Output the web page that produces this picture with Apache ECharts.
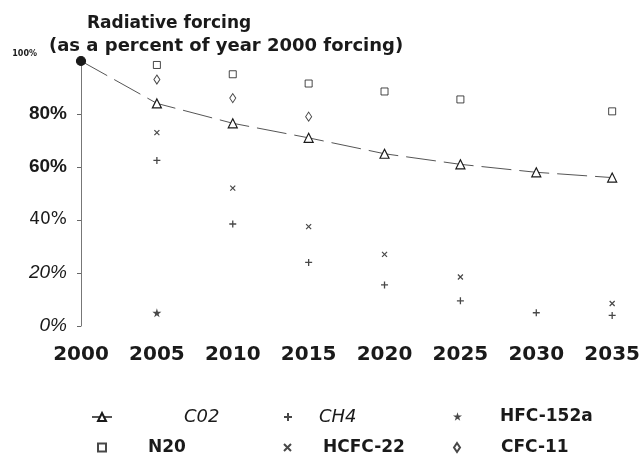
<!DOCTYPE html>
<html>
<head>
<meta charset="utf-8">
<script src="https://cdn.jsdelivr.net/npm/echarts@6/dist/echarts.min.js"></script>
<style>
  html, body { margin: 0; padding: 0; background: #fff; }
</style>
</head>
<body>
<div id="main" style="width: 643px; height: 460px"></div>
<script>
// years on the x axis
let years = [2000, 2005, 2010, 2015, 2020, 2025, 2030, 2035];
// percent of year 2000 forcing, null where no mark is shown
let co2 = [100, 84, 76.5, 71, 65, 61, 58, 56];
let ch4 = [null, 62.5, 38.5, 24, 15.5, 9.5, 5, 4];
let hfc152a = [null, 5, null, null, null, null, null, null];
let n2o = [null, 98.5, 95, 91.5, 88.5, 85.5, null, 81];
let hcfc22 = [null, 73, 52, 37.5, 27, 18.5, null, 8.5];
let cfc11 = [null, 93, 86, 79, null, null, null, null];

let ink = '#1a1a1a';
let plusPath = 'path://M5,0L5,10M0,5L10,5';
let crossPath = 'path://M0,0L10,10M10,0L0,10';
let starPath = 'path://M50,0L61,35L98,35L68,57L79,91L50,70L21,91L32,57L2,35L39,35Z';

function pairs(vals) {
    let out = [];
    for (let i = 0; i < years.length; i++) {
        if (vals[i] !== null) out.push([years[i], vals[i]]);
    }
    return out;
}

// one legend per entry so each sits where the reference has it
function legendItem(name, left, top, w, h, pad, italic) {
    return {
        left: left, top: top,
        itemWidth: w, itemHeight: h,
        data: [{
            name: name,
            textStyle: {
                fontFamily: 'DejaVu Sans',
                fontStyle: italic ? 'italic' : 'normal',
                fontWeight: italic ? 'normal' : 'bold',
                fontSize: italic ? 18 : 17,
                color: ink,
                padding: [0, 0, 0, pad]
            }
        }]
    };
}

let chart = echarts.init(document.getElementById('main'));

let co2Data = pairs(co2);
// the year-2000 starting point is drawn as a solid dot
co2Data[0] = { value: co2Data[0], symbol: 'circle', symbolSize: 9, itemStyle: { color: ink } };

let option = {
    backgroundColor: '#fff',
    animation: false,
    title: [
        {
            text: 'Radiative forcing',
            left: 82, top: 10,
            textStyle: { fontFamily: 'DejaVu Sans', fontWeight: 'bold', fontSize: 17, color: ink }
        },
        {
            text: '(as a percent of year 2000 forcing)',
            left: 44, top: 32,
            textStyle: { fontFamily: 'DejaVu Sans', fontWeight: 'bold', fontSize: 18, color: ink }
        }
    ],
    grid: { left: 81, right: 30, top: 61, bottom: 134 },
    xAxis: {
        type: 'value',
        min: 2000, max: 2035, interval: 5,
        axisLine: { show: false },
        axisTick: { show: false },
        splitLine: { show: false },
        axisLabel: {
            margin: 19,
            color: ink,
            fontFamily: 'DejaVu Sans',
            fontWeight: 'bold',
            fontSize: 20,
            formatter: function (v) { return String(v); }
        }
    },
    yAxis: {
        type: 'value',
        min: 0, max: 100, interval: 20,
        axisLine: { show: true, lineStyle: { color: '#777', width: 1 } },
        axisTick: { show: true, length: 4, lineStyle: { color: '#666' } },
        splitLine: { show: false },
        axisLabel: {
            margin: 14,
            color: ink,
            formatter: function (v) {
                if (v === 100) return '{t|100%}';
                if (v === 80 || v === 60) return '{b|' + v + '%}';
                if (v === 40) return '{r|' + v + '%}';
                return '{i|' + v + '%}';
            },
            rich: {
                t: { fontFamily: 'DejaVu Sans', fontWeight: 'bold', fontSize: 8, color: ink, padding: [0, 30, 14, 0] },
                b: { fontFamily: 'Liberation Sans', fontWeight: 'bold', fontSize: 19, color: ink },
                r: { fontFamily: 'DejaVu Sans', fontSize: 17, color: ink },
                i: { fontFamily: 'Liberation Sans', fontStyle: 'italic', fontSize: 19, color: ink }
            }
        }
    },
    legend: [
        legendItem('C02', 86, 403, 20, 10, 67, true),
        legendItem('CH4', 278, 403, 8, 8, 22, true),
        legendItem('HFC-152a', 448, 403, 9, 9, 33, false),
        legendItem('N20', 92, 434, 8, 8, 37, false),
        legendItem('HCFC-22', 278, 434, 7, 7, 27, false),
        legendItem('CFC-11', 448, 434, 6, 9, 36, false)
    ],
    series: [
        {
            name: 'C02',
            type: 'line',
            data: co2Data,
            symbol: 'triangle',
            symbolSize: 9,
            itemStyle: { color: '#fff', borderColor: ink, borderWidth: 1.2 },
            lineStyle: { color: '#555', width: 1, type: [30, 8] }
        },
        {
            name: 'CH4',
            type: 'scatter',
            data: pairs(ch4),
            symbol: plusPath,
            symbolSize: 7,
            itemStyle: { color: 'transparent', borderColor: ink, borderWidth: 1.3 }
        },
        {
            name: 'HFC-152a',
            type: 'scatter',
            data: pairs(hfc152a),
            symbol: starPath,
            symbolSize: 9,
            itemStyle: { color: ink }
        },
        {
            name: 'N20',
            type: 'scatter',
            data: pairs(n2o),
            symbol: 'rect',
            symbolSize: 7,
            itemStyle: { color: '#fff', borderColor: ink, borderWidth: 1 }
        },
        {
            name: 'HCFC-22',
            type: 'scatter',
            data: pairs(hcfc22),
            symbol: crossPath,
            symbolSize: 5,
            itemStyle: { color: 'transparent', borderColor: ink, borderWidth: 1.2 }
        },
        {
            name: 'CFC-11',
            type: 'scatter',
            data: pairs(cfc11),
            symbol: 'diamond',
            symbolSize: [6, 9],
            itemStyle: { color: '#fff', borderColor: ink, borderWidth: 1 }
        }
    ]
};

option && chart.setOption(option);
</script>
</body>
</html>
